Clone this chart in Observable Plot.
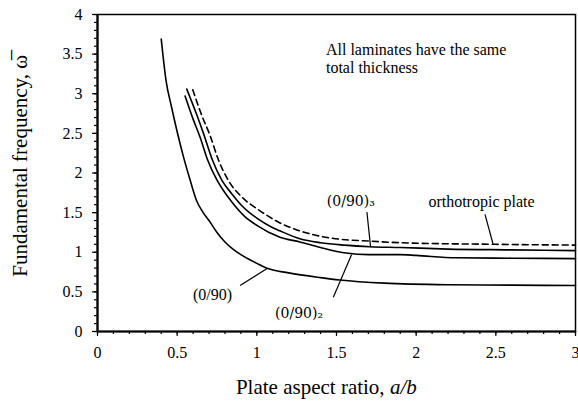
<!DOCTYPE html>
<html>
<head>
<meta charset="utf-8">
<script src="https://cdn.jsdelivr.net/npm/d3@7"></script>
<script src="https://cdn.jsdelivr.net/npm/@observablehq/plot@0.6"></script>
<style>
  html, body { margin: 0; padding: 0; background: #fff; }
  #chart svg { display: block; }
  #chart svg text { font-family: "Liberation Serif", "Times New Roman", serif !important; font-variant-numeric: normal !important; }
  #chart svg g.mathlabel text { font-family: "DejaVu Serif", serif !important; }
</style>
</head>
<body>
<div id="chart"></div>
<script>
// ---- data ----
const ratio090  = [0.40, 0.43, 0.465, 0.50, 0.54, 0.58, 0.62, 0.66, 0.70, 0.75, 0.80, 0.85, 0.90, 1.00, 1.06, 1.20, 1.40, 1.52, 1.80, 2.20, 2.60, 3.00];
const freq090   = [3.69, 3.17, 2.83, 2.52, 2.20, 1.92, 1.66, 1.51, 1.40, 1.25, 1.13, 1.04, 0.97, 0.86, 0.80, 0.74, 0.68, 0.65, 0.61, 0.59, 0.585, 0.58];

const ratio0902 = [0.55, 0.60, 0.644, 0.69, 0.75, 0.80, 0.853, 0.92, 1.00, 1.145, 1.27, 1.40, 1.56, 1.70, 1.90, 2.00, 2.25, 2.60, 3.00];
const freq0902  = [2.97, 2.68, 2.45, 2.17, 1.91, 1.75, 1.61, 1.46, 1.34, 1.19, 1.13, 1.06, 0.99, 0.97, 0.97, 0.96, 0.93, 0.925, 0.92];

const ratio0903 = [0.56, 0.62, 0.665, 0.72, 0.78, 0.85, 0.90, 1.00, 1.10, 1.145, 1.27, 1.40, 1.55, 1.71, 1.90, 2.20, 2.60, 3.00];
const freq0903  = [3.06, 2.75, 2.50, 2.17, 1.91, 1.72, 1.60, 1.43, 1.31, 1.27, 1.17, 1.12, 1.09, 1.07, 1.06, 1.04, 1.03, 1.02];

const ratioOrtho = [0.598, 0.65, 0.707, 0.76, 0.82, 0.915, 1.00, 1.10, 1.145, 1.27, 1.46, 1.71, 1.90, 2.50, 3.00];
const freqOrtho  = [3.05, 2.75, 2.47, 2.16, 1.91, 1.68, 1.55, 1.42, 1.37, 1.27, 1.18, 1.14, 1.12, 1.10, 1.09];

// annotation labels and their leader lines (data coordinates)
const labelText = ["(0/90)\u2083", "orthotropic plate", "(0/90)\u2082", "(0/90)"];
const labelFont = ["math", "serif", "math", "serif"];
const labelX    = [1.59, 2.41, 1.265, 0.722];
const labelY    = [1.635, 1.641, 0.227, 0.467];
const leaderX1  = [1.691, 2.432, 1.480, 0.895];
const leaderY1  = [1.506, 1.477, 0.433, 0.581];
const leaderX2  = [1.714, 2.482, 1.595, 1.062];
const leaderY2  = [1.064, 1.107, 0.972, 0.792];

const noteText = "All laminates have the same\ntotal thickness";
const noteX = 1.434, noteY = 3.66;

const xMajor = [0, 0.5, 1, 1.5, 2, 2.5, 3];
const yMajor = [0, 0.5, 1, 1.5, 2, 2.5, 3, 3.5, 4];
const xMinor = d3.range(0, 30.5, 1).map(d => d / 10);
const yMinor = d3.range(0, 40.5, 1).map(d => d / 10);

const xTitle = "Plate aspect ratio, ";
const xTitleItalic = "a/b";
const yTitle = "Fundamental frequency, \u03C9\u0305";

// ---- build rows ----
const mk = (xs, ys, name) => xs.map((x, i) => ({x, y: ys[i], name}));
const s090 = mk(ratio090, freq090, "(0/90)");
const s0902 = mk(ratio0902, freq0902, "(0/90)2");
const s0903 = mk(ratio0903, freq0903, "(0/90)3");
const sOrtho = mk(ratioOrtho, freqOrtho, "orthotropic");
const labels = labelText.map((t, i) => ({t, f: labelFont[i], x: labelX[i], y: labelY[i], x1: leaderX1[i], y1: leaderY1[i], x2: leaderX2[i], y2: leaderY2[i]}));

const serif = "Liberation Serif, Times New Roman, serif";
const mathFont = "DejaVu Serif, serif";

const chart = Plot.plot({
  width: 578,
  height: 406,
  marginLeft: 97,
  marginRight: 3,
  marginTop: 14,
  marginBottom: 75,
  style: {fontFamily: serif, background: "#fff", color: "#000"},
  x: {domain: [0, 3]},
  y: {domain: [0, 4]},
  marks: [
    Plot.frame({stroke: "#000", strokeWidth: 1.5}),
    Plot.axisX(xMinor, {tickSize: 3, tickFormat: null, text: null, label: null, stroke: "#000", strokeWidth: 1.2}),
    Plot.axisY(yMinor, {tickSize: 3, tickFormat: null, text: null, label: null, stroke: "#000", strokeWidth: 1.2}),
    Plot.axisX(xMajor, {tickSize: 5, tickPadding: 10, fontSize: 16, fontFamily: serif, label: null, stroke: "#000", fill: "#000", strokeWidth: 1.2, tickFormat: d => String(d)}),
    Plot.axisY(yMajor, {tickSize: 5, tickPadding: 10, fontSize: 16, fontFamily: serif, label: null, stroke: "#000", fill: "#000", strokeWidth: 1.2, tickFormat: d => String(d)}),
    Plot.ruleX([0], {stroke: "#000", strokeWidth: 2.2}),
    Plot.ruleY([0], {stroke: "#000", strokeWidth: 2.2}),
    Plot.line(s090, {x: "x", y: "y", curve: "monotone-x", stroke: "#000", strokeWidth: 1.6}),
    Plot.line(s0902, {x: "x", y: "y", curve: "monotone-x", stroke: "#000", strokeWidth: 1.6}),
    Plot.line(s0903, {x: "x", y: "y", curve: "monotone-x", stroke: "#000", strokeWidth: 1.6}),
    Plot.line(sOrtho, {x: "x", y: "y", curve: "monotone-x", stroke: "#000", strokeWidth: 1.6, strokeDasharray: "6,4"}),
    Plot.link(labels, {x1: "x1", y1: "y1", x2: "x2", y2: "y2", stroke: "#000", strokeWidth: 1.2}),
    Plot.text(labels.filter(d => d.f === "math"), {x: "x", y: "y", text: "t", fontSize: 14, fontFamily: mathFont, className: "mathlabel", fill: "#000"}),
    Plot.text(labels.filter(d => d.f === "serif"), {x: "x", y: "y", text: "t", fontSize: 16, fontFamily: serif, fill: "#000"}),
    Plot.text([noteText], {x: noteX, y: noteY, text: d => d, textAnchor: "start", lineAnchor: "top", lineHeight: 1.15, fontSize: 16, fontFamily: serif, fill: "#000"}),
    Plot.text([xTitle], {x: 1.835, frameAnchor: "bottom", dy: 62, text: d => d, textAnchor: "end", fontSize: 21, fontFamily: serif, fill: "#000"}),
    Plot.text([xTitleItalic], {x: 1.835, frameAnchor: "bottom", dy: 62, text: d => d, textAnchor: "start", fontSize: 21, fontFamily: serif, fontStyle: "italic", fill: "#000"}),
    Plot.text([yTitle], {y: 2.09, frameAnchor: "left", dx: -77, rotate: -90, textAnchor: "middle", text: d => d, fontSize: 21, fontFamily: serif, fill: "#000"})
  ]
});
document.getElementById("chart").appendChild(chart);
</script>
</body>
</html>
